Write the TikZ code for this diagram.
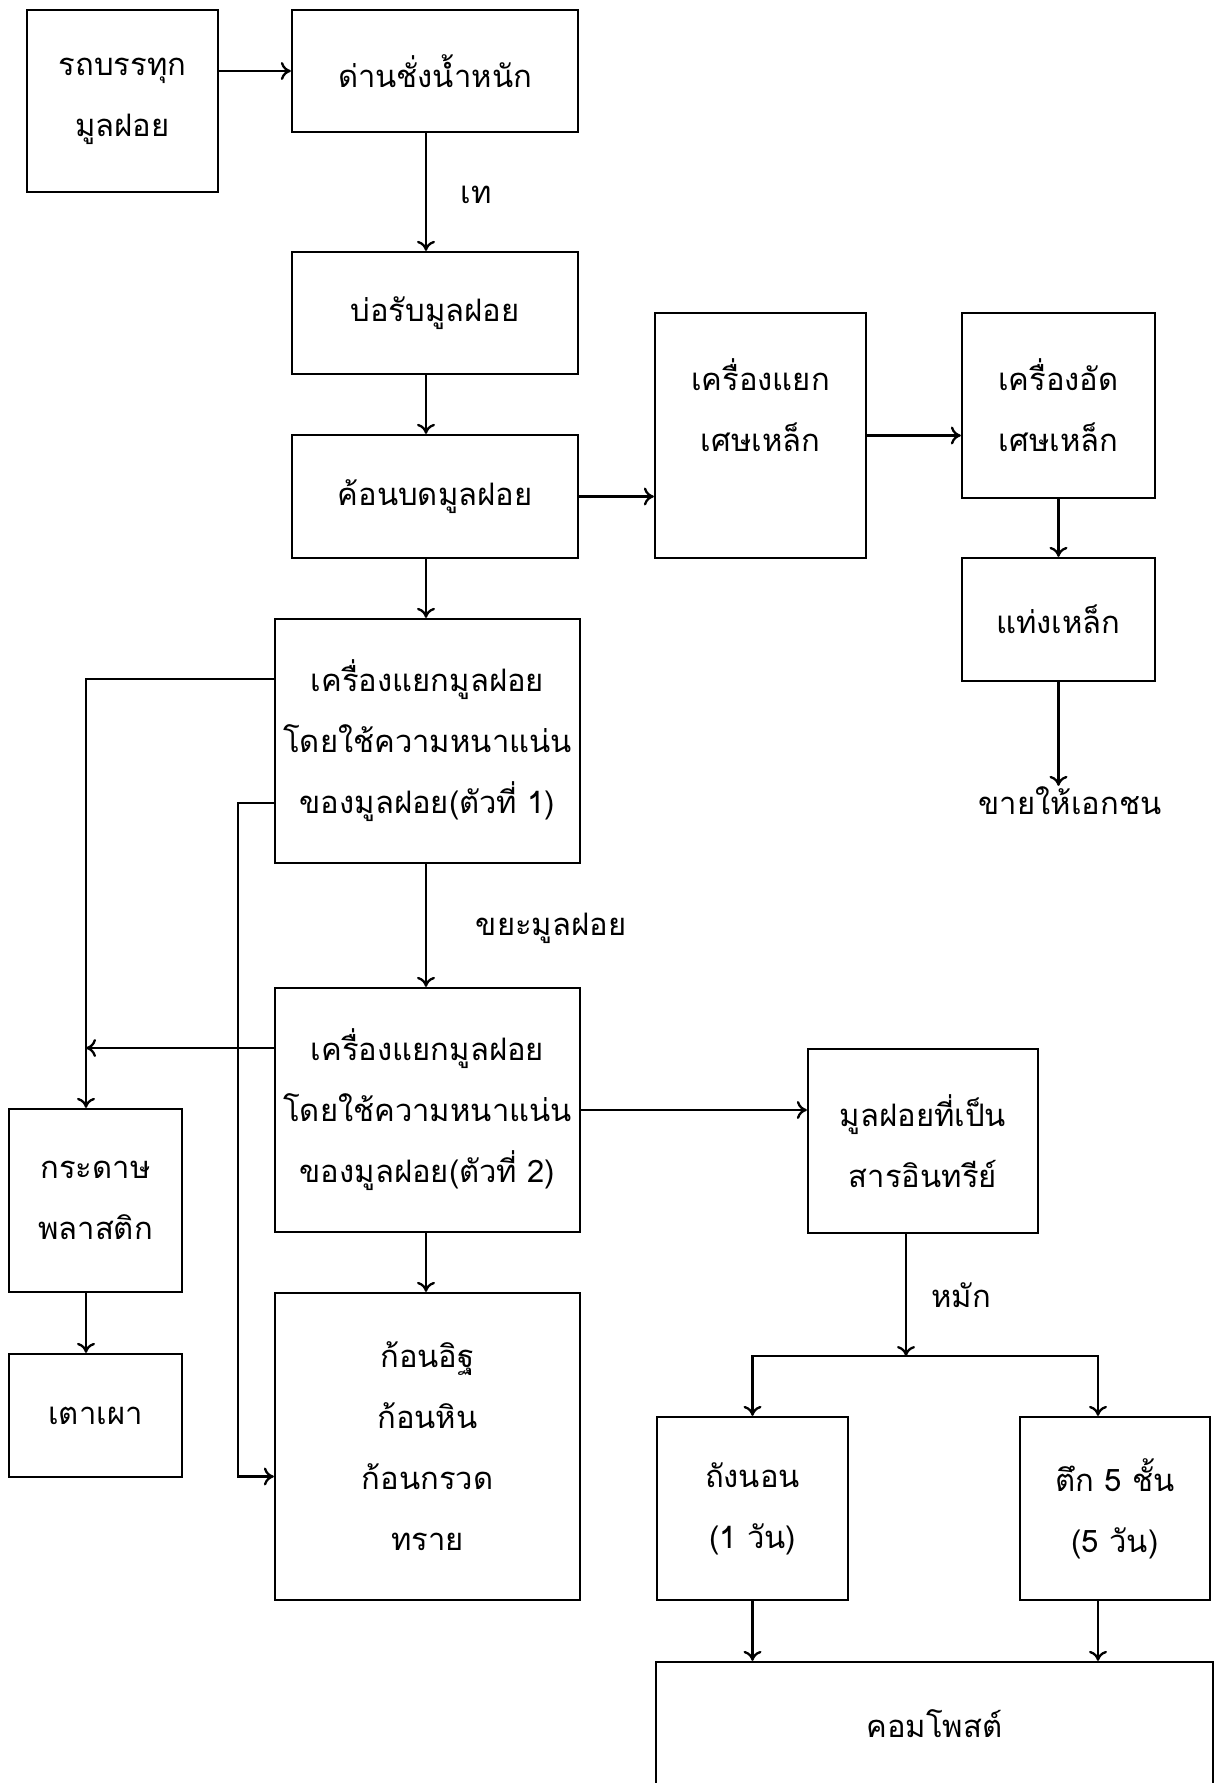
\documentclass[tikz,border=0pt]{standalone}
\usepackage{fontspec}
\newfontfamily\thaifont[Script=Thai]{Loma}
\usetikzlibrary{arrows.meta}

\begin{document}
\begin{tikzpicture}[x=1pt, y=-1pt, line width=2.3pt, >={To[length=10pt, width=18pt]},
    box/.style={draw=black, align=center, inner sep=0pt, font=\thaifont\fontsize{31}{61}\selectfont},
    txt/.style={align=center, inner sep=0pt, font=\thaifont\fontsize{31}{61}\selectfont}]

      % page frame
      \useasboundingbox (0, 0) rectangle (1223, 1783);
      \clip (0, 0) rectangle (1223, 1783);

      % helper lines
      \coordinate (col) at (426, 0);
      \coordinate (left_bus) at (86, 0);
      \coordinate (inner_bus) at (238, 0);
      \coordinate (split) at (906, 1356);

      % intake
      \node [box, minimum width=191pt, minimum height=182pt, name=truck] at (122.5, 101) {รถบรรทุก\\มูลฝอย};
      \node [box, minimum width=286pt, minimum height=122pt, name=weigh] at (435, 71) {ด่านชั่งน้ำหนัก};
      \node [box, minimum width=286pt, minimum height=122pt, name=pit] at (435, 313) {บ่อรับมูลฝอย};
      \node [box, minimum width=286pt, minimum height=123pt, name=hammer] at (435, 496.5) {ค้อนบดมูลฝอย};

      % iron line
      \node [box, minimum width=211pt, minimum height=245pt, name=mag_sep] at (760.5, 435.5) {เครื่องแยก\\เศษเหล็ก\\\mbox{}};
      \node [box, minimum width=193pt, minimum height=185pt, name=press] at (1058.5, 405.5) {เครื่องอัด\\เศษเหล็ก};
      \node [box, minimum width=193pt, minimum height=123pt, name=bar] at (1058.5, 619.5) {แท่งเหล็ก};
      \node [txt, name=sell] at (1070, 801) {ขายให้เอกชน};

      % density separators
      \node [box, minimum width=305pt, minimum height=244pt, name=sep1] at (427.5, 741) {เครื่องแยกมูลฝอย\\โดยใช้ความหนาแน่น\\ของมูลฝอย(ตัวที่ 1)};
      \node [box, minimum width=305pt, minimum height=244pt, name=sep2] at (427.5, 1110) {เครื่องแยกมูลฝอย\\โดยใช้ความหนาแน่น\\ของมูลฝอย(ตัวที่ 2)};
      \node [box, minimum width=305pt, minimum height=307pt, name=stone] at (427.5, 1446.5) {ก้อนอิฐ\\ก้อนหิน\\ก้อนกรวด\\ทราย};
      \node [box, minimum width=173pt, minimum height=183pt, name=paper] at (95.5, 1200.5) {กระดาษ\\พลาสติก};
      \node [box, minimum width=173pt, minimum height=123pt, name=kiln] at (95.5, 1415.5) {เตาเผา};

      % compost line
      \node [box, minimum width=230pt, minimum height=184pt, name=organic] at (923, 1141) {มูลฝอยที่เป็น\\สารอินทรีย์};
      \node [box, minimum width=191pt, minimum height=183pt, name=tank] at (752.5, 1508.5) {ถังนอน\\(1 วัน)};
      \node [box, minimum width=190pt, minimum height=183pt, name=tower] at (1115, 1508.5) {ตึก 5 ชั้น\\(5 วัน)};
      \node [box, minimum width=557pt, minimum height=124pt, name=compost] at (934.5, 1724) {คอมโพสต์};

      % labels
      \node [txt, name=dump_lbl] at (476, 195) {เท};
      \node [txt, name=waste_lbl] at (551, 928) {ขยะมูลฝอย};
      \node [txt, name=ferment_lbl] at (961, 1295) {หมัก};

      % connections
      \draw [->] (truck.east |- weigh.west) -- (weigh.west);
      \draw [->] (weigh.south -| col) -- (pit.north -| col);
      \draw [->] (pit.south -| col) -- (hammer.north -| col);
      \draw [->] (hammer.east) -- (hammer.east -| mag_sep.west);
      \draw [->] (mag_sep.east) -- (mag_sep.east -| press.west);
      \draw [->] (press.south) -- (bar.north);
      \draw [->] (bar.south) -- (bar.south |- sell.north);
      \draw [->] (hammer.south -| col) -- (sep1.north -| col);
      \draw [->] (sep1.south -| col) -- (sep2.north -| col);
      \draw [->] (sep2.south -| col) -- (stone.north -| col);
      \draw [->] ([yshift=62pt]sep1.west) -- ([yshift=62pt]sep1.west -| left_bus) -- (paper.north -| left_bus);
      \draw [->] ([yshift=62pt]sep2.west) -- ([yshift=62pt]sep2.west -| left_bus);
      \draw [->] ([yshift=-62pt]sep1.west) -- ([yshift=-62pt]sep1.west -| inner_bus) -- ([yshift=-30pt]stone.west -| inner_bus) -- ([yshift=-30pt]stone.west);
      \draw [->] (paper.south -| left_bus) -- (kiln.north -| left_bus);
      \draw [->] (sep2.east) -- (sep2.east -| organic.west);
      \draw [->] (organic.south -| split) -- (split);
      \draw [->] (split) -| (tank.north);
      \draw [->] (split) -| ([xshift=-17pt]tower.north);
      \draw [->] (tank.south) -- (tank.south |- compost.north);
      \draw [->] ([xshift=-17pt]tower.south) -- ([xshift=-17pt]tower.south |- compost.north);

\end{tikzpicture}
\end{document}
